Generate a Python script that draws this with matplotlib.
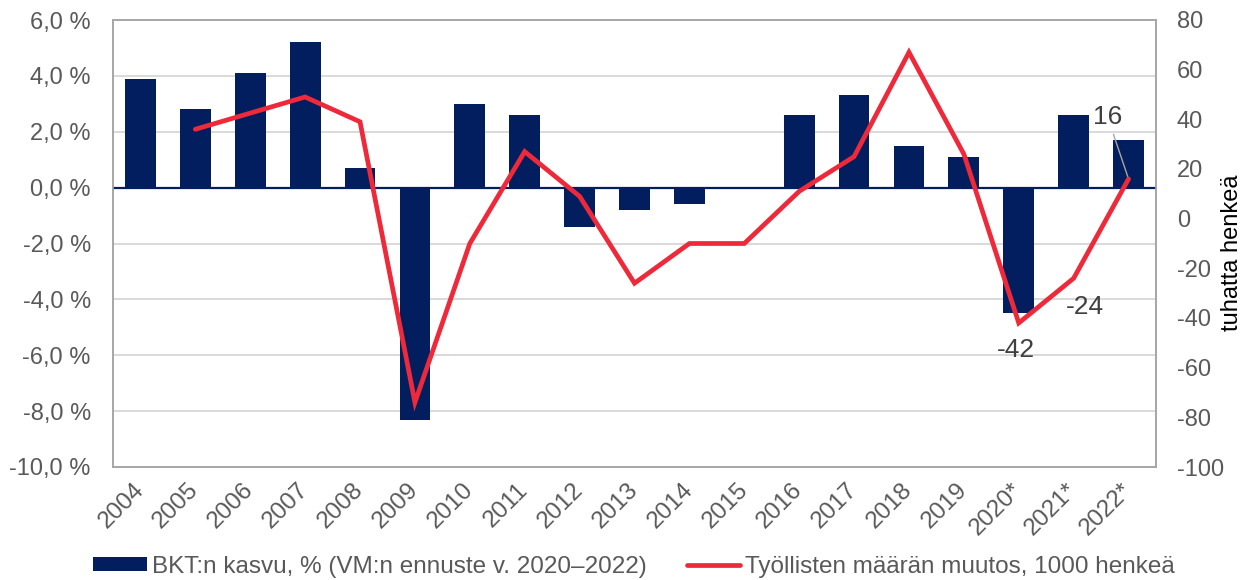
import matplotlib
matplotlib.use("Agg")
import matplotlib.pyplot as plt
import matplotlib.transforms as mtransforms
import numpy as np

years = ["2004", "2005", "2006", "2007", "2008", "2009", "2010", "2011", "2012",
         "2013", "2014", "2015", "2016", "2017", "2018", "2019", "2020*", "2021*", "2022*"]
gdp_growth = [3.9, 2.8, 4.1, 5.2, 0.7, -8.3, 3.0, 2.6, -1.4,
              -0.8, -0.6, 0.0, 2.6, 3.3, 1.5, 1.1, -4.5, 2.6, 1.7]
employment_change = [np.nan, 36, 42.5, 49, 39, -74, -10, 27, 9,
                     -26, -10, -10, 11, 25, 67, 26, -42, -24, 16]

gdp_label = "BKT:n kasvu, % (VM:n ennuste v. 2020–2022)"
emp_label = "Työllisten määrän muutos, 1000 henkeä"
right_axis_label = "tuhatta henkeä"

NAVY = "#021E5E"
RED = "#EE2A3A"
GREY_TXT = "#595959"
SPINE = "#A6A6A6"
GRID = "#D9D9D9"

plt.rcParams["font.family"] = ["Liberation Sans", "DejaVu Sans"]
plt.rcParams["axes.unicode_minus"] = False

fig = plt.figure(figsize=(12.49, 5.80), dpi=100)
ax = fig.add_axes([113/1249, 1-467/580, (1156-113)/1249, (467-20)/580])
ax2 = ax.twinx()

x = np.arange(len(years))
bars = ax.bar(x, gdp_growth, width=0.56, color=NAVY, label=gdp_label, zorder=3)
ax.axhline(0, color=NAVY, lw=1.6, zorder=4)

ax.set_ylim(-10, 6)
ax.set_yticks(np.arange(-10, 6.1, 2))
ax.set_yticklabels([f"{v:.1f} %".replace(".", ",") for v in np.arange(-10, 6.1, 2)])
ax.set_xlim(-0.5, len(years) - 0.5)
ax.set_xticks(x)
ax.set_xticklabels(years, rotation=45, ha="right", va="center", rotation_mode="anchor")
shift = mtransforms.ScaledTranslation(5/100, -7/100, fig.dpi_scale_trans)
for lbl in ax.get_xticklabels():
    lbl.set_transform(lbl.get_transform() + shift)
ax.grid(axis="y", color=GRID, lw=1.4, zorder=0)
ax.set_axisbelow(True)

line, = ax2.plot(x, employment_change, color=RED, lw=3.4, label=emp_label,
                 solid_joinstyle="miter", solid_capstyle="round", zorder=5)
ax2.set_ylim(-100, 80)
ax2.set_yticks(np.arange(-100, 81, 20))
ax2.set_ylabel(right_axis_label, fontsize=17, color="black", va="center")
ax2.yaxis.set_label_coords((1232-113)/1043, 0.48)

for a in (ax, ax2):
    for s in a.spines.values():
        s.set_color(SPINE)
        s.set_linewidth(1.2)
ax.tick_params(axis="y", length=0, pad=16, labelsize=17, labelcolor=GREY_TXT)
ax.tick_params(axis="x", length=0, pad=14, labelsize=17.5, labelcolor=GREY_TXT)
ax2.tick_params(axis="y", length=0, pad=15, labelsize=17, labelcolor=GREY_TXT)

# annotations for forecast years
ann = [(18, 16, (-21, 62), True), (17, -24, (11, -29), False), (16, -42, (-3, -27), False)]
for xi, yi, off, leader in ann:
    kw = dict(arrowprops=dict(arrowstyle="-", color="#A6A6A6", lw=1.0, shrinkA=2, shrinkB=0)) if leader else {}
    ax2.annotate(f"{employment_change[xi]:g}", xy=(xi, yi), xytext=off, textcoords="offset pixels",
                 ha="center", va="center", fontsize=19, color="#404040", **kw)

fig.legend([bars, line], [gdp_label, emp_label], loc="center", bbox_to_anchor=(634/1249, 1-567/580),
           ncol=2, frameon=False, fontsize=17.5, handlelength=2.2, handletextpad=0.2,
           columnspacing=1.65, labelcolor=GREY_TXT, handleheight=0.5)

fig.savefig("out.png", dpi=100)
